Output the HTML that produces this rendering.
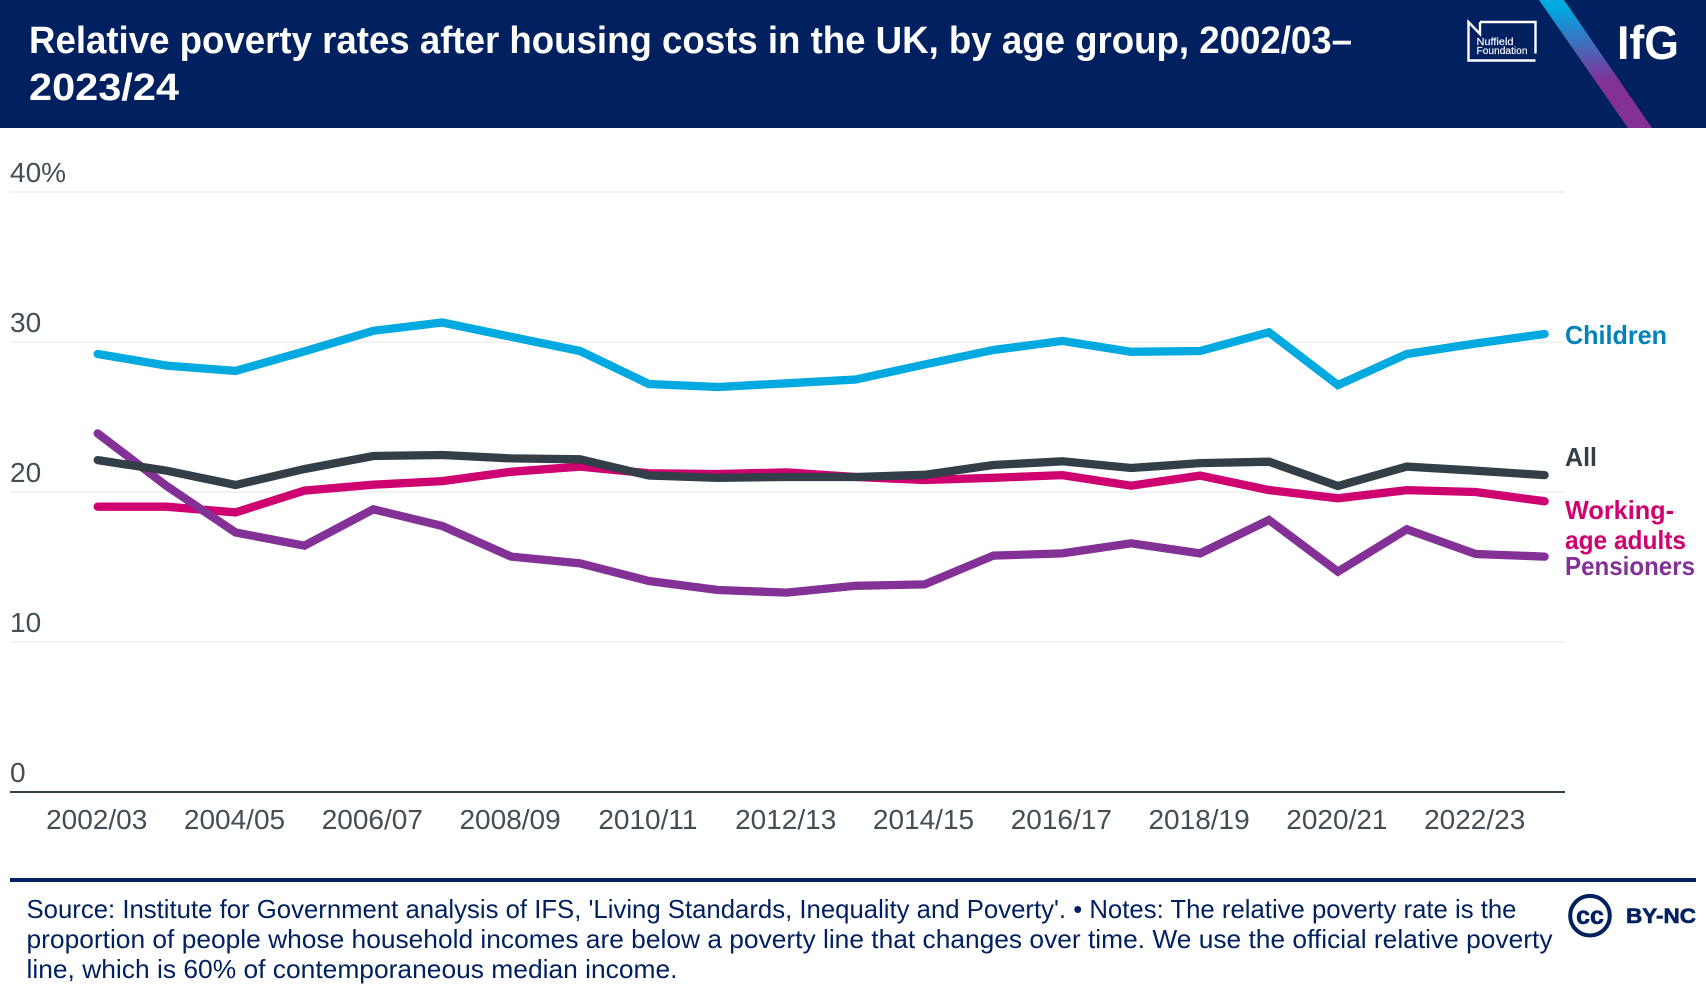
<!DOCTYPE html>
<html lang="en">
<head>
<meta charset="utf-8">
<title>Relative poverty rates after housing costs in the UK, by age group</title>
<style>
  html, body { margin: 0; padding: 0; background: #fff; width: 1706px; height: 998px; overflow: hidden; }
  svg { display: block; font-family: "Liberation Sans", sans-serif; }
  .foot { font-size: 26px; fill: #00205f; }
  .sl { font-size: 26px; font-weight: 700; }
  .tick { font-size: 28px; fill: #434e56; }
</style>
</head>
<body>
<svg id="chart" xmlns="http://www.w3.org/2000/svg" width="1706" height="998" viewBox="0 0 1706 998">
  <defs>
    <linearGradient id="bandGrad" gradientUnits="userSpaceOnUse" x1="0" y1="8" x2="0" y2="82">
      <stop offset="0" stop-color="#00a9e0"/>
      <stop offset="1" stop-color="#833097"/>
    </linearGradient>
  </defs>

  <rect x="0" y="0" width="1706" height="128" fill="#00205f"/>
  <text x="29" y="53" font-size="38" font-weight="700" fill="#fff" textLength="1323" lengthAdjust="spacingAndGlyphs">Relative poverty rates after housing costs in the UK, by age group, 2002/03–</text>
  <text x="29" y="100" font-size="38" font-weight="700" fill="#fff" textLength="150" lengthAdjust="spacingAndGlyphs">2023/24</text>

  <g>
    <path d="M1480 22 H1535.5 V53.5 M1535.5 60.5 H1468.5 V22 L1480 34 V22" fill="none" stroke="#fff" stroke-width="2.4"/>
    <text x="1476.5" y="45" font-size="10.5" fill="#fff" stroke="#fff" stroke-width="0.15" textLength="37" lengthAdjust="spacingAndGlyphs">Nuffield</text>
    <text x="1476.5" y="54" font-size="10.5" fill="#fff" stroke="#fff" stroke-width="0.15" textLength="51" lengthAdjust="spacingAndGlyphs">Foundation</text>
  </g>
  <polygon points="1539,0 1564,0 1652,128 1628,128" fill="url(#bandGrad)"/>
  <text x="1617" y="59" font-size="47" font-weight="700" fill="#fff" textLength="62" lengthAdjust="spacingAndGlyphs">IfG</text>

  <g id="grid"></g>
  <g id="xaxis"></g>
  <g id="series"></g>

  <text class="sl" x="1565" y="344" fill="#0083b8" textLength="102" lengthAdjust="spacingAndGlyphs">Children</text>
  <text class="sl" x="1565" y="466" fill="#333f48" textLength="32" lengthAdjust="spacingAndGlyphs">All</text>
  <text class="sl" x="1565" y="519" fill="#cf0070" textLength="109" lengthAdjust="spacingAndGlyphs">Working-</text>
  <text class="sl" x="1565" y="549" fill="#cf0070" textLength="121" lengthAdjust="spacingAndGlyphs">age adults</text>
  <text class="sl" x="1565" y="575" fill="#833097" textLength="130" lengthAdjust="spacingAndGlyphs">Pensioners</text>

  <rect x="10" y="878" width="1686" height="4" fill="#00205f"/>
  <g>
    <text class="foot" x="26.5" y="918" textLength="1490" lengthAdjust="spacingAndGlyphs">Source: Institute for Government analysis of IFS, 'Living Standards, Inequality and Poverty'. • Notes: The relative poverty rate is the</text>
    <text class="foot" x="26.5" y="948" textLength="1526" lengthAdjust="spacingAndGlyphs">proportion of people whose household incomes are below a poverty line that changes over time. We use the official relative poverty</text>
    <text class="foot" x="26.5" y="978" textLength="651" lengthAdjust="spacingAndGlyphs">line, which is 60% of contemporaneous median income.</text>
  </g>
  <g>
    <circle cx="1590" cy="915.7" r="19.8" fill="none" stroke="#00205f" stroke-width="4"/>
    <text x="1590" y="924" font-size="25" font-weight="700" fill="#00205f" stroke="#00205f" stroke-width="0.6" text-anchor="middle">cc</text>
    <text x="1626" y="923" font-size="21" font-weight="700" fill="#00205f" stroke="#00205f" stroke-width="0.6" textLength="70" lengthAdjust="spacingAndGlyphs">BY-NC</text>
  </g>
</svg>

<script>
const categories = ['2002/03','2003/04','2004/05','2005/06','2006/07','2007/08','2008/09','2009/10','2010/11','2011/12','2012/13','2013/14','2014/15','2015/16','2016/17','2017/18','2018/19','2019/20','2020/21','2021/22','2022/23','2023/24'];
const children = [29.2,28.43,28.07,29.37,30.75,31.3,30.35,29.4,27.2,27.0,27.25,27.5,28.5,29.47,30.07,29.35,29.4,30.65,27.13,29.2,29.9,30.53];
const allPeople = [22.13,21.42,20.47,21.53,22.4,22.47,22.24,22.18,21.1,20.95,21.0,21.0,21.15,21.8,22.05,21.6,21.93,22.02,20.4,21.69,21.42,21.13];
const workingAge = [19.02,19.02,18.64,20.09,20.49,20.73,21.35,21.69,21.25,21.2,21.31,21.0,20.8,20.95,21.13,20.42,21.09,20.13,19.58,20.13,20.0,19.38];
const pensioners = [23.91,20.4,17.31,16.42,18.85,17.73,15.69,15.24,14.07,13.47,13.29,13.75,13.84,15.76,15.91,16.58,15.91,18.13,14.69,17.51,15.87,15.69];
const yTickValues = [0,10,20,30,40];
const yTickLabels = ['0','10','20','30','40%'];

const SVGNS = 'http://www.w3.org/2000/svg';
const plot = { left: 10, right: 1565, y0: 792, pxPerUnit: 15, x0: 97.7, step: 68.9 };
function xScale(i) { return plot.x0 + plot.step * i; }
function yScale(v) { return plot.y0 - plot.pxPerUnit * v; }

const gridG = document.getElementById('grid');
yTickValues.forEach(function (v, i) {
  const line = document.createElementNS(SVGNS, 'line');
  
  
  line.setAttribute('x1', plot.left);
  line.setAttribute('x2', plot.right);
  line.setAttribute('y1', yScale(v));
  line.setAttribute('y2', yScale(v));
  line.setAttribute('stroke', v === 0 ? '#333f48' : '#f2f2f2');
  line.setAttribute('stroke-width', 2);
  gridG.appendChild(line);

  const t = document.createElementNS(SVGNS, 'text');
  
  
  t.setAttribute('class', 'tick');
  t.setAttribute('x', 10);
  t.setAttribute('y', yScale(v) - 10);
  t.textContent = yTickLabels[i];
  gridG.appendChild(t);
});

const xG = document.getElementById('xaxis');
categories.forEach(function (c, i) {
  if (i % 2 !== 0) return;
  const t = document.createElementNS(SVGNS, 'text');
  
  
  t.setAttribute('class', 'tick');
  t.setAttribute('x', xScale(i) - 1);
  t.setAttribute('y', 829);
  t.setAttribute('text-anchor', 'middle');
  t.textContent = c;
  xG.appendChild(t);
});

const seriesG = document.getElementById('series');
[
  { key: 'children', values: children, color: '#00a9e0' },
  { key: 'working-age-adults', values: workingAge, color: '#cf0070' },
  { key: 'pensioners', values: pensioners, color: '#833097' },
  { key: 'all', values: allPeople, color: '#333f48' }
].forEach(function (s) {
  const path = document.createElementNS(SVGNS, 'path');
  
  
  path.setAttribute('d', s.values.map(function (v, i) {
    return (i ? 'L' : 'M') + xScale(i).toFixed(1) + ' ' + yScale(v).toFixed(1);
  }).join(' '));
  path.setAttribute('fill', 'none');
  path.setAttribute('stroke', s.color);
  path.setAttribute('stroke-width', 8.3);
  path.setAttribute('stroke-linecap', 'round');
  path.setAttribute('stroke-linejoin', 'miter');
  seriesG.appendChild(path);
});
</script>
</body>
</html>
